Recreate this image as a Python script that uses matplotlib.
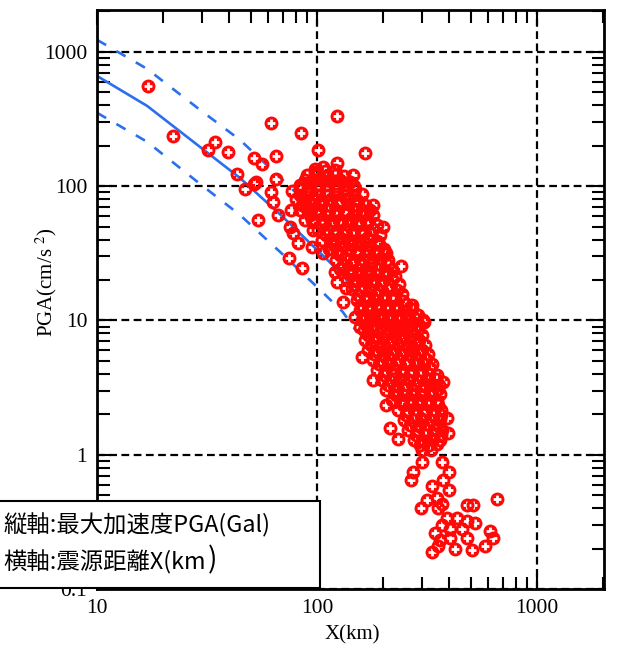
import matplotlib
matplotlib.use('Agg')
import matplotlib.pyplot as plt
from matplotlib.path import Path
from matplotlib.patches import Rectangle
from matplotlib.ticker import LogLocator, NullFormatter

plt.rcParams['font.family'] = ['Liberation Serif', 'DejaVu Serif']
plt.rcParams['mathtext.fontset'] = 'stix'

# attenuation relation: median and upper / lower bands
curve_x = [10, 16.9, 29.4, 44.7, 70, 100, 131, 152]
curve_mid = [662, 396, 196, 115, 59, 33.6, 21.9, 15.5]
curve_hi = [1230, 747, 370, 221, 111, 63, 41, 29]
curve_lo = [352, 214, 104, 61, 31, 17.8, 11.6, 8.2]

# observed PGA - sparse near-source records
near_x = [17.1, 22.1, 32, 34.4, 39.4, 43.3, 47, 51.8, 53, 52, 56, 61.6, 65, 65, 54,
          61.6, 63, 66.5, 74.6, 85, 86, 76, 77, 75.5, 77.7, 82, 95, 101, 100, 91,
          86, 90, 95, 96, 93, 123, 165, 123, 130, 107, 98, 136, 200, 206, 241,
          131, 149, 306, 287, 170, 150, 107, 121, 123, 136, 157, 180, 207, 215, 233,
          375, 390, 395, 303, 160]
near_y = [560, 237, 186, 214, 180, 123, 95, 104, 107, 162, 147, 295, 168, 113, 56,
          91, 76, 61, 29, 250, 24.6, 66, 92, 50, 45, 38, 35, 186, 126, 89,
          83, 69, 56, 47, 107, 334, 177, 149, 108, 139, 128, 80, 50, 32, 25.5,
          13.8, 10.6, 9.8, 6.9, 55, 66, 31.8, 23, 19.4, 17.5, 8.9, 3.6, 2.36, 1.58, 1.32,
          3.5, 1.87, 1.46, 10, 5.3]

# dense main cloud (first layer)
cloud_x = [98, 109, 121,
           88, 96, 104, 116, 127, 141,
           84, 91, 101, 111, 122, 134, 149,
           80, 87, 96, 106, 116, 127, 139, 153,
           84, 91, 101, 111, 122, 134, 147, 161, 174,
           88, 97, 106, 118, 129, 141, 155, 170,
           101, 111, 122, 134, 147, 161, 179,
           105, 116, 127, 139, 153, 169, 187,
           114, 125, 138, 152, 167, 184, 202,
           122, 134, 147, 161, 179, 195, 211,
           127, 139, 153, 169, 187, 204, 219,
           137, 151, 165, 181, 199, 219,
           144, 158, 174, 191, 211, 231,
           152, 167, 184, 202, 222, 246,
           157, 172, 189, 208, 228, 251, 271,
           161, 176, 193, 213, 233, 256, 282,
           163, 179, 195, 215, 236, 260, 285,
           165, 181, 199, 219, 241, 265, 291,
           171, 186, 206, 226, 248, 273, 302,
           179, 195, 215, 236, 260, 285, 313,
           187, 204, 223, 243, 268, 298, 326,
           197, 217, 238, 262, 288, 317, 348,
           206, 226, 248, 273, 302, 330, 355,
           219, 241, 265, 291, 320, 351,
           233, 256, 282, 310, 340, 366,
           248, 273, 302, 330, 362,
           260, 285, 313, 344, 370,
           276, 302, 333, 362,
           302, 330]
cloud_y = [134, 130, 133,
           112, 109, 113, 110, 112, 108,
           95, 93, 96, 92, 95, 93, 95,
           80, 78, 81, 78, 80, 77, 80, 78,
           67, 65, 68, 66, 67, 65, 68, 66, 67,
           56, 55, 57, 55, 56, 57, 55, 56,
           47, 48, 46, 48, 47, 46, 48,
           40, 39, 41, 39, 40, 41, 39,
           34, 33, 34, 33, 34, 33, 34,
           28, 29, 28, 28.5, 28, 29, 28,
           24, 23.5, 24, 23.5, 24, 23.5, 24,
           20, 19.7, 20.3, 20, 19.8, 20.2,
           17, 16.7, 17.1, 16.8, 17, 16.8,
           14.3, 14, 14.3, 14.1, 14.3, 14,
           12, 11.8, 12.1, 11.9, 12, 11.8, 12.1,
           10.1, 10, 10.2, 10, 10.1, 10, 10.2,
           8.5, 8.4, 8.6, 8.4, 8.5, 8.6, 8.4,
           7.2, 7.1, 7.3, 7.1, 7.2, 7.3, 7.1,
           6, 5.9, 6.1, 6, 5.9, 6.1, 6,
           5.1, 5, 5.2, 5.1, 5, 5.1, 5.2,
           4.3, 4.2, 4.4, 4.3, 4.2, 4.3, 4.4,
           3.6, 3.55, 3.65, 3.6, 3.55, 3.6, 3.65,
           3.05, 3.0, 3.08, 3.02, 3.05, 3.0, 3.06,
           2.56, 2.52, 2.6, 2.55, 2.57, 2.52,
           2.16, 2.13, 2.18, 2.15, 2.17, 2.14,
           1.82, 1.8, 1.84, 1.81, 1.83,
           1.53, 1.51, 1.54, 1.52, 1.53,
           1.29, 1.27, 1.3, 1.28,
           1.09, 1.08]

# dense main cloud (second, staggered layer)
cloud2_x = [90, 99, 110, 121, 133, 146,
            84, 91, 101, 111, 122, 134, 147,
            84, 91, 101, 111, 122, 134, 147, 161,
            86, 94, 104, 114, 126, 138, 151, 166, 179,
            93, 102, 112, 124, 136, 149, 163, 180,
            105, 116, 127, 139, 153, 169, 187,
            110, 121, 133, 146, 160, 176, 193,
            119, 131, 144, 158, 174, 191,
            127, 139, 153, 169, 187, 204,
            131, 144, 158, 174, 191, 211,
            143, 157, 172, 189, 208, 226,
            147, 161, 179, 195, 215, 236,
            153, 169, 187, 204, 223, 243,
            158, 174, 191, 211, 231, 253, 271,
            163, 181, 197, 217, 238, 262, 288,
            167, 184, 202, 222, 246, 268, 291,
            171, 186, 206, 226, 248, 273, 302,
            176, 193, 213, 233, 256, 282, 310,
            181, 199, 219, 241, 265, 291, 320,
            191, 211, 231, 253, 279, 306, 333,
            202, 222, 246, 268, 294, 323, 351,
            211, 231, 253, 279, 306, 337, 358,
            228, 251, 276, 302, 333, 362,
            246, 268, 294, 323, 355,
            253, 279, 306, 337, 366,
            265, 291, 320, 351,
            282, 310, 340, 366,
            294, 323, 351]
cloud2_y = [121, 122, 120, 121, 119, 122,
            102, 101, 103, 102, 100, 103, 101,
            86, 87, 85, 86, 87, 85, 86, 87,
            72.5, 73, 72, 73, 72, 73.5, 72, 72.5, 73,
            61, 62, 60, 61, 62, 60, 61, 61.5,
            51.5, 51, 52, 51.5, 51, 52, 51.5,
            43.4, 43, 44, 43.4, 43, 44, 43.4,
            36.5, 36, 37, 36.5, 36, 37,
            30.8, 30.5, 31, 30.8, 30.5, 31,
            26, 26.3, 25.8, 26, 26.3, 25.8,
            21.8, 22, 21.6, 21.8, 22, 21.6,
            18.4, 18.2, 18.6, 18.4, 18.2, 18.6,
            15.5, 15.3, 15.7, 15.5, 15.3, 15.7,
            13.1, 13, 13.2, 13.1, 13, 13.2, 13.1,
            11, 10.9, 11.1, 11, 10.9, 11.1, 11,
            9.3, 9.2, 9.4, 9.3, 9.2, 9.4, 9.3,
            7.8, 7.7, 7.9, 7.8, 7.7, 7.9, 7.8,
            6.6, 6.5, 6.7, 6.6, 6.5, 6.7, 6.6,
            5.6, 5.5, 5.7, 5.6, 5.5, 5.7, 5.6,
            4.7, 4.65, 4.75, 4.7, 4.65, 4.75, 4.7,
            3.95, 3.9, 4.0, 3.95, 3.9, 4.0, 3.95,
            3.3, 3.27, 3.33, 3.3, 3.27, 3.33, 3.3,
            2.8, 2.77, 2.83, 2.8, 2.77, 2.83,
            2.35, 2.33, 2.37, 2.35, 2.33,
            1.98, 1.96, 2.0, 1.98, 1.96,
            1.67, 1.65, 1.69, 1.67,
            1.41, 1.4, 1.42, 1.41,
            1.19, 1.18, 1.2]

# far-field tail
tail_x = [273, 268, 301, 370, 398, 374, 333, 398, 350, 316, 297, 354, 370, 479, 510,
          658, 389, 433, 479, 523, 370, 402, 344, 456, 479, 402, 362, 611, 629, 580,
          506, 424, 333, 354]
tail_y = [0.75, 0.65, 0.89, 0.88, 0.74, 0.65, 0.58, 0.55, 0.48, 0.46, 0.40, 0.40, 0.43, 0.42, 0.42,
          0.47, 0.34, 0.34, 0.32, 0.31, 0.30, 0.28, 0.26, 0.28, 0.24, 0.24, 0.23, 0.27, 0.24, 0.21,
          0.196, 0.20, 0.19, 0.21]

x_ticks = [10, 100, 1000]
y_ticks = [0.1, 1, 10, 100, 1000]


def ring_plus_marker():
    # red disc with a plus-shaped hole
    circ = Path.unit_circle()
    w, l = 0.2, 0.56
    verts = [(w, l), (w, w), (l, w), (l, -w), (w, -w), (w, -l), (-w, -l),
             (-w, -w), (-l, -w), (-l, w), (-w, w), (-w, l), (w, l)]
    codes = [Path.MOVETO] + [Path.LINETO] * 11 + [Path.CLOSEPOLY]
    return Path.make_compound_path(circ, Path(verts, codes))


fig = plt.figure(figsize=(6.24, 6.45), dpi=100)
ax = fig.add_axes([0.1554, 0.0868, 0.8125, 0.8977])
ax.set_xscale('log')
ax.set_yscale('log')
ax.set_xlim(10, 2020)
ax.set_ylim(0.1, 2050)

blue = '#2a70ee'
ax.plot(curve_x, curve_mid, color=blue, lw=1.9, zorder=2)
ax.plot(curve_x, curve_hi, color=blue, lw=1.9, ls=(0, (4, 4.5)), zorder=2)
ax.plot(curve_x, curve_lo, color=blue, lw=1.9, ls=(0, (4, 4.5)), zorder=2)

xs = near_x + cloud_x + cloud2_x + tail_x
ys = near_y + cloud_y + cloud2_y + tail_y
ax.scatter(xs, ys, s=100, marker=ring_plus_marker(), c='#ff0808', linewidths=0, zorder=3)

ax.grid(True, which='major', color='k', ls=(0, (3.5, 2)), lw=1.6)
ax.set_xticks(x_ticks)
ax.set_xticklabels([str(v) for v in x_ticks])
ax.set_yticks(y_ticks)
ax.set_yticklabels(['0.1', '1', '10', '100', '1000'])
for axis in (ax.xaxis, ax.yaxis):
    axis.set_minor_locator(LogLocator(base=10, subs=range(2, 10), numticks=20))
    axis.set_minor_formatter(NullFormatter())
ax.tick_params(which='both', direction='in', top=True, right=True, width=1.5, labelsize=15.5)
ax.tick_params(which='major', length=11, pad=7)
ax.tick_params(which='minor', length=9)
for sp in ax.spines.values():
    sp.set_linewidth(2)

ax.set_xlabel('X(km)', fontsize=15)
ax.xaxis.set_label_coords(0.503, -0.062)
ax.set_ylabel(r'PGA(cm/s $^{2}$)', fontsize=15)
ax.yaxis.set_label_coords(-0.075, 0.53)

# explanation box over the lower-left corner
fig.patches.append(Rectangle((-0.01, 0.0884), 0.523, 0.135, transform=fig.transFigure,
                             facecolor='white', edgecolor='black', lw=1.5, zorder=10))
cjk = ['Noto Sans CJK JP', 'DejaVu Sans']
fig.text(0.006, 1 - 525 / 645, '縦軸:最大加速度PGA(Gal)', va='center', ha='left',
         fontsize=16.8, family=cjk, zorder=11)
line2 = fig.text(0.006, 1 - 562 / 645, '横軸:震源距離X(km', va='center', ha='left',
                 fontsize=16.8, family=cjk, zorder=11)
# the closing bracket of the second line is set a size larger
fig.canvas.draw()
bb = line2.get_window_extent()
fig.text(bb.x1 / fig.bbox.width + 0.002, 1 - 560 / 645, ')', va='center', ha='left',
         fontsize=20, family=cjk, zorder=11)

fig.savefig('out.png', dpi=100)
